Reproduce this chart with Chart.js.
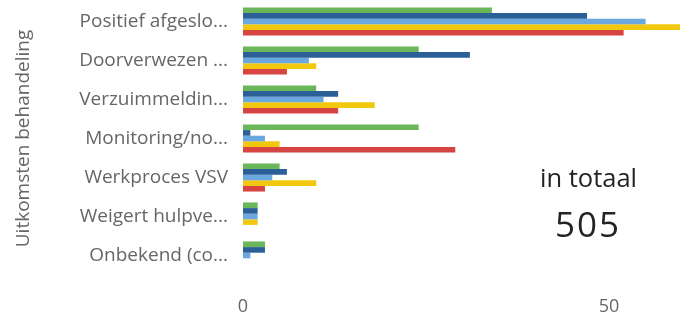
<!DOCTYPE html>
<html>
<head>
<meta charset="utf-8">
<script src="https://cdn.jsdelivr.net/npm/chart.js@4"></script>
<style>
  html, body { margin: 0; padding: 0; background: #fff; }
  .wrap { position: relative; width: 680px; height: 316px; }
  .total { position: absolute; left: 520px; top: 163px; width: 160px; font-family: "Open Sans", sans-serif; color: #252423; }
  .total .label { position: absolute; left: 20px; top: -3px; font-size: 25.5px; white-space: nowrap; }
  .total .value { position: absolute; left: 35px; top: 37px; font-size: 35px; letter-spacing: 2px; }
</style>
</head>
<body>
<div class="wrap">
  <canvas id="chart" width="680" height="316"></canvas>
  <div class="total"><span class="label">in totaal</span><span class="value">505</span></div>
</div>
<script>
const categories = [
  "Positief afgeslo...",
  "Doorverwezen ...",
  "Verzuimmeldin...",
  "Monitoring/no...",
  "Werkproces VSV",
  "Weigert hulpve...",
  "Onbekend (co...",
];

// five series (top to bottom in each group)
const seriesGreen = [34, 24, 10, 24, 5, 2, 3];
const seriesDarkBlue = [47, 31, 13, 1, 6, 2, 3];
const seriesLightBlue = [55, 9, 11, 3, 4, 2, 1];
const seriesYellow = [67, 10, 18, 5, 10, 2, 0];
const seriesRed = [52, 6, 13, 29, 3, 0, 0];

const xTicks = [0, 50];

const colors = ["#6bb55a", "#2b5f98", "#6ca8e0", "#f2c80f", "#d64541"];
const seriesList = [seriesGreen, seriesDarkBlue, seriesLightBlue, seriesYellow, seriesRed];

const renderChart = () => {
  const ctx = document.getElementById("chart");

  new Chart(ctx, {
    type: "bar",
    data: {
      labels: categories,
      datasets: seriesList.map((values, i) => ({
        data: values,
        backgroundColor: colors[i],
        borderWidth: 0,
        categoryPercentage: 0.72,
        barPercentage: 1,
      })),
    },
    options: {
      indexAxis: "y",
      responsive: false,
      animation: false,
      layout: { padding: { top: 2, right: 0, bottom: 0, left: 0 } },
      plugins: {
        legend: { display: false },
        tooltip: { enabled: false },
      },
      scales: {
        x: {
          min: 0,
          max: 59.7,
          grid: { display: false, drawTicks: false },
          border: { display: false },
          ticks: {
            color: "#666",
            font: { family: "Open Sans", size: 18 },
            padding: 21,
          },
          afterBuildTicks: (scale) => {
            scale.ticks = xTicks.map((v) => ({ value: v }));
          },
          afterFit: (scale) => {
            scale.height = 41;
            scale.paddingLeft = 0;
            scale.paddingRight = 0;
          },
        },
        y: {
          grid: { display: false, drawTicks: false },
          border: { display: false },
          ticks: {
            color: "#666",
            font: { family: "Open Sans", size: 19 },
            padding: 15,
          },
          title: {
            display: true,
            text: "Uitkomsten behandeling",
            color: "#666",
            font: { family: "Open Sans", size: 19 },
            padding: { top: 12, bottom: 0 },
          },
          afterFit: (scale) => {
            scale.width = 243;
            scale.paddingTop = 0;
            scale.paddingBottom = 0;
          },
        },
      },
    },
  });
};

window.addEventListener("load", renderChart);
</script>
</body>
</html>
